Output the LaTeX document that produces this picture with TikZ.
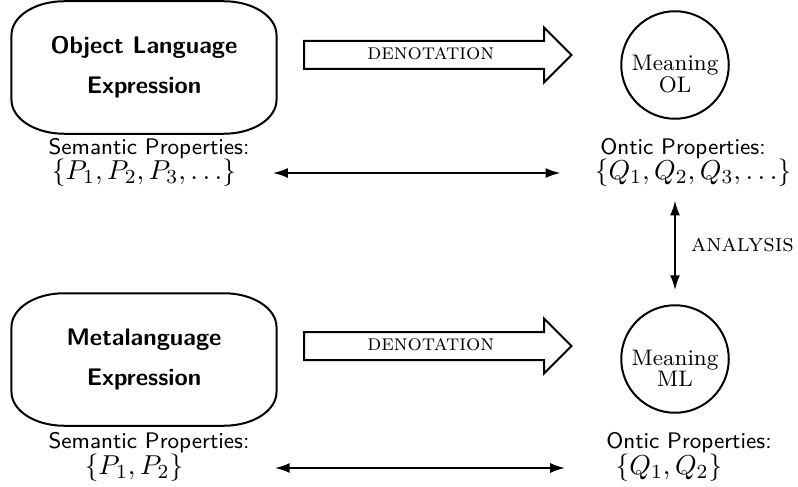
\documentclass[tikz,border=0pt]{standalone}
\usetikzlibrary{positioning,arrows.meta,shapes.arrows}

\begin{document}
\begin{tikzpicture}[x=0.4pt,y=-0.4pt,
  expr/.style={rectangle, draw=none, outer sep=0pt, minimum width=106pt, minimum height=53pt,
    align=center, font=\fontsize{9.6}{12}\selectfont\sffamily\bfseries},
  exprline/.style={line width=0.8pt, line join=round},
  meaning/.style={circle, draw=black, line width=0.8pt, minimum size=43pt, inner sep=0pt,
    align=center, font=\small},
  denot/.style={single arrow, draw=black, line width=0.8pt, single arrow head extend=5.4pt,
    minimum height=107pt, inner xsep=2pt, inner ysep=1.5pt, text height=5.6pt, text depth=1.8pt,
    anchor=tail, font=\small\scshape},
  prop/.style={font=\sffamily\small, inner sep=0pt, text depth=0pt},
  propset/.style={inner sep=0pt, font=\fontsize{10.95}{13.6}\selectfont},
  link/.style={{Latex[length=6pt,width=4pt]}-{Latex[length=6pt,width=4pt]}, line width=0.8pt}]

  \useasboundingbox (0,0) rectangle (798,486);

  % object language row
  \node[expr] (objexpr) at (144,67.5) {Object Language\\[4pt] Expression};
  \node[denot] (denotOL) at (303,55) {denotation};
  \node[meaning] (meanOL) at (675,65) {\rule{0pt}{13.3pt}Meaning\\[-2.5pt]OL};
  \node[prop] (semOL) at (149,146) {Semantic Properties:};
  \node[propset] (psetOL) at (144,173) {$\{P_1,P_2,P_3,\ldots\}$};
  \node[prop] (onticOL) at (683,146) {Ontic Properties:};
  \node[propset] (qsetOL) at (693,173) {$\{Q_1,Q_2,Q_3,\ldots\}$};

  % metalanguage row
  \node[expr] (metaexpr) at (144,359.5) {Metalanguage\\[4pt] Expression};
  \node[denot] (denotML) at (303,346) {denotation};
  \node[meaning] (meanML) at (675,359) {\rule{0pt}{13.3pt}Meaning\\[-2.5pt]ML};
  \node[prop] (semML) at (149,440) {Semantic Properties:};
  \node[propset] (psetML) at (134,468) {$\{P_1,P_2\}$};
  \node[prop] (onticML) at (689,440) {Ontic Properties:};
  \node[propset] (qsetML) at (669,468) {$\{Q_1,Q_2\}$};

  % rounded outlines of the two expression boxes
  \foreach \n in {objexpr,metaexpr}
    \draw[exprline] ([xshift=21pt]\n.north west) -- ([xshift=-21pt]\n.north east)
      arc[start angle=90, end angle=0, x radius=21pt, y radius=13.5pt]
      -- ([yshift=13.5pt]\n.south east)
      arc[start angle=0, end angle=-90, x radius=21pt, y radius=13.5pt]
      -- ([xshift=21pt]\n.south west)
      arc[start angle=270, end angle=180, x radius=21pt, y radius=13.5pt]
      -- ([yshift=-13.5pt]\n.north west)
      arc[start angle=180, end angle=90, x radius=21pt, y radius=13.5pt] -- cycle;

  \draw[link, shorten <=14.5pt, shorten >=13.5pt] (psetOL) -- (qsetOL);
  \draw[link, shorten <=36.4pt, shorten >=20pt] (psetML) -- (qsetML);
  \draw[link] ([yshift=-5.3pt]meanOL.south |- qsetOL.south) -- ([yshift=5.6pt]meanML.north)
    node[midway, right, inner sep=0pt, xshift=6pt, font=\scshape] (anal) {analysis};
\end{tikzpicture}
\end{document}
